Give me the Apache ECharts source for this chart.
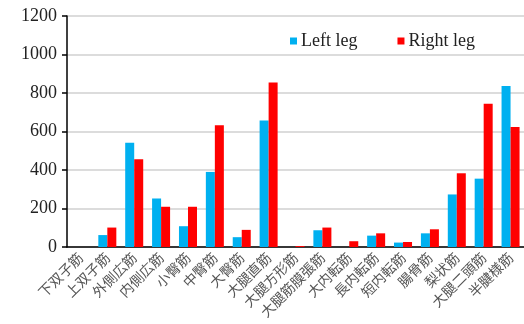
<!DOCTYPE html>
<html><head><meta charset="utf-8">
<script src="https://cdn.jsdelivr.net/npm/echarts@6/dist/echarts.min.js"></script>
<style>html,body{margin:0;padding:0;background:#fff}#c{width:524px;height:324px}</style>
</head><body><div id="c"></div>
<script>
const categories = ['下双子筋','上双子筋','外側広筋','内側広筋','小臀筋','中臀筋','大臀筋','大腿直筋','大腿方形筋','大腿筋膜張筋','大内転筋','長内転筋','短内転筋','腸骨筋','梨状筋','大腿二頭筋','半腱様筋'];
const leftLeg  = [0, 62, 541, 252, 108, 390, 51, 657, 0, 87, 0, 59, 23, 71, 273, 355, 837];
const rightLeg = [0, 101, 456, 209, 209, 633, 89, 855, 5, 101, 30, 71, 26, 92, 383, 744, 623];
const yTicks = [0, 200, 400, 600, 800, 1000, 1200];

const serif = '"Liberation Serif","Times New Roman","Noto Sans CJK JP",serif';
const chart = echarts.init(document.getElementById('c'), null, {renderer:'canvas'});
chart.setOption({
  animation: false,
  backgroundColor: '#fff',
  textStyle: {fontFamily: serif},
  legend: {
    data: ['Left leg','Right leg'],
    left: 285, top: 27,
    itemWidth: 7, itemHeight: 7, itemGap: 40,
    icon: 'rect',
    textStyle: {fontFamily: serif, fontSize: 18, color: '#222', padding:[0,0,0,-1]}
  },
  grid: {left: 67, right: -2, top: 16, bottom: 77, containLabel: false},
  xAxis: {
    type: 'category', data: categories,
    axisLine: {lineStyle: {color: '#000', width: 1.5}},
    axisTick: {alignWithLabel: true, length: 4, lineStyle: {color: '#000', width: 1.5}},
    axisLabel: {rotate: 45, interval: 0, fontSize: 14, color: '#555', margin: 8, fontFamily: '"Noto Sans CJK JP",sans-serif'}
  },
  yAxis: {
    type: 'value', min: yTicks[0], max: yTicks[yTicks.length-1], interval: 200,
    axisLine: {show: true, lineStyle: {color: '#000', width: 1.5}},
    axisTick: {show: true, length: 5, lineStyle: {color: '#000', width: 1.5}},
    axisLabel: {fontSize: 18, color: '#222', margin: 10, fontFamily: serif, formatter: v => String(v)},
    splitLine: {lineStyle: {color: '#d0d0d0', width: 1.5}}
  },
  series: [
    {name: 'Left leg', type: 'bar', data: leftLeg, itemStyle: {color: '#00B0F0'}, barGap: '0%', barCategoryGap: '33%'},
    {name: 'Right leg', type: 'bar', data: rightLeg, itemStyle: {color: '#FF0000'}, barGap: '0%', barCategoryGap: '33%'}
  ]
});
</script></body></html>
